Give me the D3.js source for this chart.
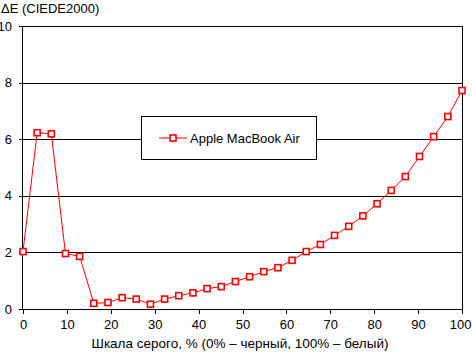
<!DOCTYPE html>
<html>
<head>
<meta charset="utf-8">
<script src="https://cdn.jsdelivr.net/npm/d3@7"></script>
<style>
  body { margin: 0; background: #fff; }
  svg { display: block; font-family: "Liberation Sans", Arial, sans-serif; }
  text { fill: #000; }
</style>
</head>
<body>
<svg width="472" height="352"></svg>
<script>
const svg = d3.select("svg");
const width = +svg.attr("width");
const height = +svg.attr("height");

// grey levels, % (32 steps from 0 to 100)
const greyLevels = d3.range(32).map(i => i * 100 / 31);
const deltaE = [2.03, 6.23, 6.19, 1.96, 1.86, 0.2, 0.23, 0.4, 0.35, 0.17,
                0.35, 0.47, 0.57, 0.72, 0.79, 0.97, 1.14, 1.32, 1.46, 1.72,
                2.03, 2.28, 2.6, 2.92, 3.29, 3.72, 4.19, 4.68, 5.39, 6.09,
                6.8, 7.72];
const xTicks = [0, 10, 20, 30, 40, 50, 60, 70, 80, 90, 100];
const yTicks = [0, 2, 4, 6, 8, 10];
const seriesName = "Apple MacBook Air";

const margin = { top: 26, right: 10, bottom: 43, left: 23 };
const innerWidth = width - margin.left - margin.right;
const innerHeight = height - margin.top - margin.bottom;

const xScale = d3.scaleLinear().domain([0, 100]).range([0, innerWidth]);
const yScale = d3.scaleLinear().domain([0, 10]).range([innerHeight, 0]);

const g = svg.append('g')
    .attr('transform', `translate(${margin.left}, ${margin.top})`)
    .attr('shape-rendering', 'crispEdges');

// horizontal grid
g.append('g').selectAll('line').data(yTicks.filter(d => d > 0))
    .enter().append('line')
    .attr('x1', 0).attr('x2', innerWidth)
    .attr('y1', d => Math.round(yScale(d)) + 0.5)
    .attr('y2', d => Math.round(yScale(d)) + 0.5)
    .attr('stroke', '#000');

// right border
g.append('line')
    .attr('x1', innerWidth + 0.5).attr('x2', innerWidth + 0.5)
    .attr('y1', 0).attr('y2', innerHeight)
    .attr('stroke', '#000');

const yAxisG = g.append('g')
    .call(d3.axisLeft(yScale).tickValues(yTicks).tickSize(4).tickPadding(7));
const xAxisG = g.append('g')
    .attr('transform', `translate(0, ${innerHeight})`)
    .call(d3.axisBottom(xScale).tickValues(xTicks).tickSize(5).tickPadding(6));

[xAxisG, yAxisG].forEach(a => {
    a.select('.domain').attr('stroke', '#000');
    a.selectAll('.tick line').attr('stroke', '#000');
    a.selectAll('.tick text')
        .attr('font-family', '"Liberation Sans", Arial, sans-serif')
        .attr('font-size', 13)
        .attr('fill', '#000');
});
xAxisG.selectAll('path.domain').attr('d', `M0,0.5H${innerWidth}`);
yAxisG.selectAll('path.domain').attr('d', `M-0.5,0V${innerHeight}`);
// keep the last label inside the window
xAxisG.selectAll('.tick text').filter(d => d === 100)
    .attr('text-anchor', 'end').attr('x', 9);

// series
const line = d3.line()
    .x((d, i) => xScale(greyLevels[i]))
    .y(d => yScale(d));

const plot = svg.append('g')
    .attr('transform', `translate(${margin.left}, ${margin.top})`);

plot.append('path')
    .datum(deltaE)
    .attr('d', line)
    .attr('fill', 'none')
    .attr('stroke', '#ff0000')
    .attr('stroke-width', 1);

plot.selectAll('rect').data(deltaE)
    .enter().append('rect')
    .attr('x', (d, i) => xScale(greyLevels[i]) - 3)
    .attr('y', d => yScale(d) - 3)
    .attr('width', 6)
    .attr('height', 6)
    .attr('fill', '#fff')
    .attr('stroke', '#ff0000')
    .attr('stroke-width', 1.6);

// legend
const lg = svg.append('g').attr('transform', 'translate(141, 116)');
lg.append('rect')
    .attr('x', 0.5).attr('y', 0.5)
    .attr('width', 175).attr('height', 43)
    .attr('fill', '#fff').attr('stroke', '#000')
    .attr('shape-rendering', 'crispEdges');
lg.append('line')
    .attr('x1', 18).attr('x2', 46).attr('y1', 22).attr('y2', 22)
    .attr('stroke', '#ff0000');
lg.append('rect')
    .attr('x', 29).attr('y', 19).attr('width', 6).attr('height', 6)
    .attr('fill', '#fff').attr('stroke', '#ff0000').attr('stroke-width', 1.6);
lg.append('text')
    .attr('x', 49).attr('y', 26.5)
    .attr('font-size', 13)
    .text(seriesName);

// titles
svg.append('text')
    .attr('x', 1).attr('y', 13)
    .attr('font-size', 13)
    .text('ΔE (CIEDE2000)');

svg.append('text')
    .attr('x', 240).attr('y', 348)
    .attr('text-anchor', 'middle')
    .attr('font-size', 13.5)
    .text('Шкала серого, % (0% – черный, 100% – белый)');
</script>
</body>
</html>
